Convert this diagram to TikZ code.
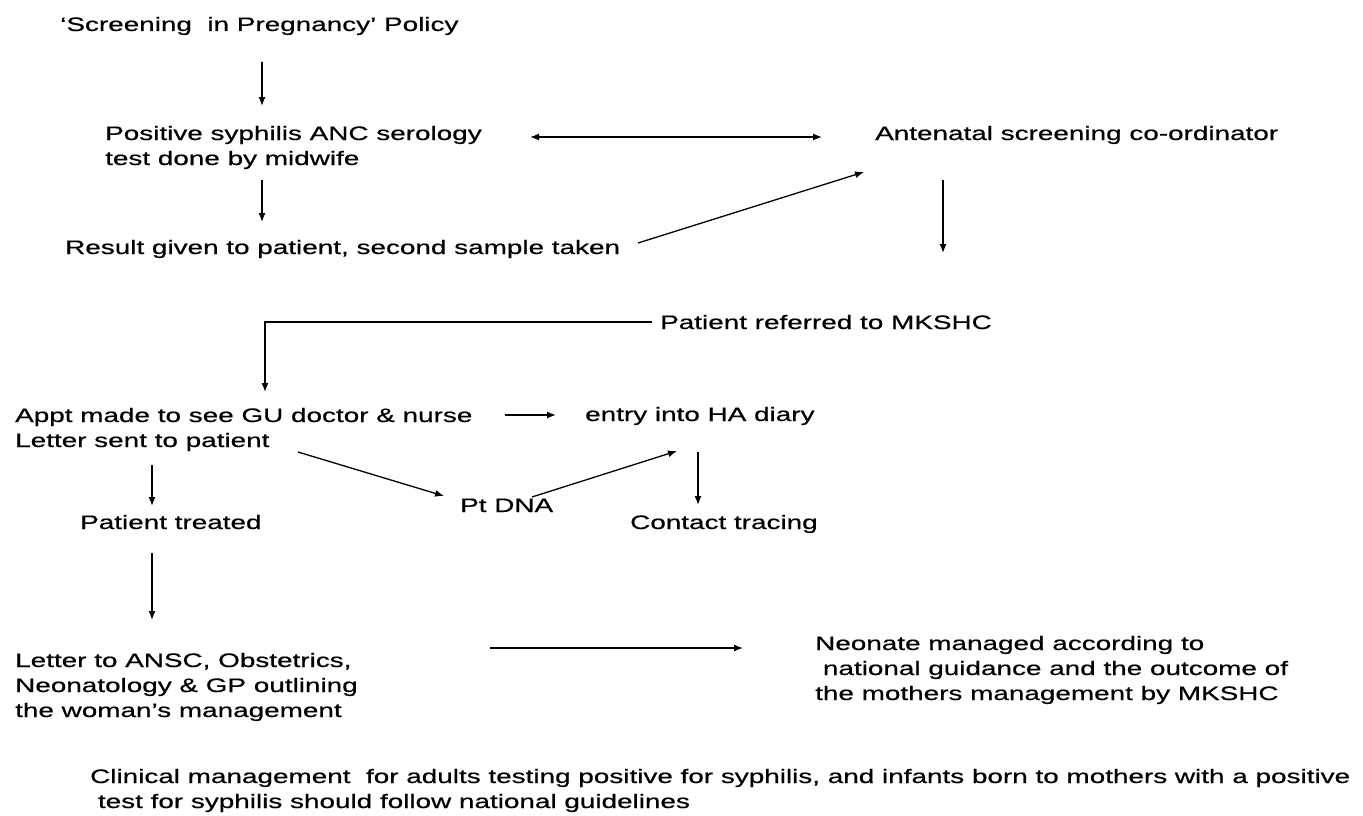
\documentclass[tikz,border=0pt]{standalone}
\usepackage{fontspec}
\setmainfont[FakeStretch=1.43,FakeBold=0.6]{Liberation Sans}
\usetikzlibrary{arrows.meta}
\begin{document}
\begin{tikzpicture}[x=1pt,y=-1pt,
  txt/.style={inner sep=0pt, anchor=base west, align=left,
    font=\fontsize{19.5}{25}\selectfont},
  arr/.style={line width=1.3pt, -{Latex[length=9pt,width=7pt]}},
  darr/.style={line width=1.3pt, {Latex[length=9pt,width=7pt]}-{Latex[length=9pt,width=7pt]}},
  ln/.style={line width=1.3pt}]
\useasboundingbox (0,0) rectangle (1363,816);
% nodes (base = baseline of the last line)
\node[txt] (policy) at (60,31) {`Screening\ \ in Pregnancy' Policy};
\node[txt] (positive) at (105,165) {Positive syphilis ANC serology\\test done by midwife};
\node[txt] (result) at (65,254) {Result given to patient, second sample taken};
\node[txt] (coord) at (875,140) {Antenatal screening co-ordinator};
\node[txt] (referred) at (660,329) {Patient referred to MKSHC};
\node[txt] (appt) at (15,447) {Appt made to see GU doctor \& nurse\\Letter sent to patient};
\node[txt] (entry) at (585,421) {entry into HA diary};
\node[txt] (dna) at (460,512) {Pt DNA};
\node[txt] (contact) at (630,529) {Contact tracing};
\node[txt] (treated) at (80,529) {Patient treated};
\node[txt] (letter) at (15,717) {Letter to ANSC, Obstetrics,\\Neonatology \& GP outlining\\the woman's management};
\node[txt] (neonate) at (815,700) {Neonate managed according to\\\ national guidance and the outcome of\\the mothers management by MKSHC};
\node[txt] (clinical) at (90,808) {Clinical management\ \ for adults testing positive for syphilis, and infants born to mothers with a positive\\\ test for syphilis should follow national guidelines};
% connector end points
\coordinate (a1s) at (262,62);  \coordinate (a1e) at (262,106);
\coordinate (a2s) at (262,180); \coordinate (a2e) at (262,222);
\coordinate (d1s) at (530,137); \coordinate (d1e) at (822,137);
\coordinate (r1s) at (638,243); \coordinate (r1e) at (864,172);
\coordinate (c1s) at (943,180); \coordinate (c1e) at (943,253);
\coordinate (p1s) at (652,322); \coordinate (p1c) at (265,322); \coordinate (p1e) at (265,392);
\coordinate (e1s) at (505,415); \coordinate (e1e) at (556,415);
\coordinate (g1s) at (298,452); \coordinate (g1e) at (444,496);
\coordinate (g2s) at (532,497); \coordinate (g2e) at (677,451);
\coordinate (h1s) at (698,452); \coordinate (h1e) at (698,505);
\coordinate (t1s) at (152,465); \coordinate (t1e) at (152,506);
\coordinate (t2s) at (152,553); \coordinate (t2e) at (152,620);
\coordinate (n1s) at (490,648); \coordinate (n1e) at (743,648);
% connectors
\draw[arr] (a1s) -- (a1e);
\draw[arr] (a2s) -- (a2e);
\draw[darr] (d1s) -- (d1e);
\draw[arr] (r1s) -- (r1e);
\draw[arr] (c1s) -- (c1e);
\draw[arr] (p1s) -- (p1c) -- (p1e);
\draw[arr] (e1s) -- (e1e);
\draw[arr] (g1s) -- (g1e);
\draw[arr] (g2s) -- (g2e);
\draw[arr] (h1s) -- (h1e);
\draw[arr] (t1s) -- (t1e);
\draw[arr] (t2s) -- (t2e);
\draw[arr] (n1s) -- (n1e);
\end{tikzpicture}
\end{document}
